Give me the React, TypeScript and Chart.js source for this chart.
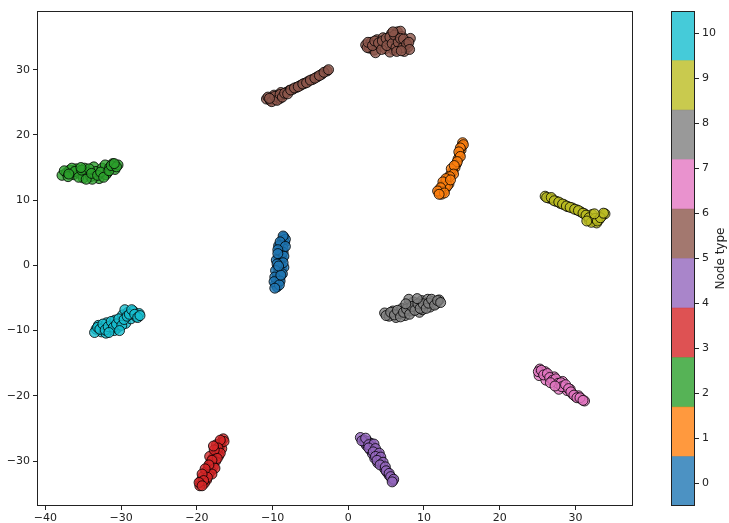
import React, { useEffect, useRef } from "react";
import { Chart, registerables } from "chart.js";

Chart.register(...registerables);

// ---- Data ----
const NODE_TYPES = [0, 1, 2, 3, 4, 5, 6, 7, 8, 9, 10];

const TYPE0: [number, number][] = [[-8.5,4.3],[-8.7,3.8],[-8.9,3.2],[-8.4,3.5],[-9.1,2.8],[-8.6,2.6],[-9.0,2.2],[-8.8,1.6],[-9.2,1.2],[-8.7,1.0],[-9.0,0.5],[-8.9,0.0],[-9.3,-0.3],[-8.8,-0.6],[-9.1,-1.0],[-9.4,-1.4],[-9.0,-1.8],[-9.5,-2.2],[-9.2,-2.6],[-9.6,-2.9],[-9.4,-3.3],[-8.6,2.0],[-9.2,3.0],[-8.5,-0.3],[-9.5,0.8],
  [-8.3,4.0],[-8.6,4.5],[-9.0,3.6],[-8.3,2.9],[-9.3,2.4],[-8.5,1.4],[-9.3,1.8],[-8.6,0.4],[-9.4,0.2],[-9.6,-0.8],[-8.7,-1.3],[-9.7,-1.8],[-9.0,-2.4],[-9.8,-2.5],[-9.1,-3.0],[-9.7,-3.5],[-8.9,-1.5],[-9.2,-0.1]];
const TYPE1: [number, number][] = [[15.1,18.8],[15.0,18.3],[14.9,17.7],[14.7,17.0],[14.5,16.3],[14.3,15.6],[14.1,15.0],[13.8,14.4],[13.5,13.9],[13.2,13.4],[13.0,13.0],[12.7,12.6],[13.3,12.5],[12.4,12.1],[12.9,11.9],[12.1,11.6],[12.6,11.4],[12.0,11.2],[12.3,10.9],[13.6,14.8],[12.8,12.2],
  [15.2,18.5],[14.8,18.0],[14.6,17.4],[14.8,16.7],[14.4,15.9],[14.0,15.3],[13.9,14.0],[13.4,13.6],[12.9,13.3],[13.1,12.2],[12.5,12.8],[12.2,11.9],[11.8,11.4],[12.7,11.1],[12.0,10.9],[13.5,13.1]];
const TYPE2: [number, number][] = [[-37.8,13.8],[-37.2,14.2],[-36.8,14.6],[-36.3,13.9],[-35.9,14.8],[-35.5,14.1],[-35.0,13.4],[-34.8,14.9],[-34.4,14.3],[-34.0,13.6],[-33.6,15.1],[-33.3,14.4],[-32.9,13.3],[-32.5,14.9],[-32.1,15.4],[-31.8,14.2],[-31.5,15.0],[-31.1,15.6],[-30.8,14.7],[-30.4,15.4],[-33.8,13.2],[-36.5,14.9],[-32.0,13.9],
  [-37.5,14.5],[-37.0,13.6],[-36.1,14.4],[-35.6,13.5],[-35.2,14.6],[-34.6,13.2],[-34.2,14.8],[-33.9,14.1],[-33.1,13.8],[-32.7,14.3],[-32.3,13.5],[-31.6,14.5],[-31.3,15.3],[-30.6,15.1],[-30.9,15.6],[-36.9,14.0],[-35.3,15.0]];
const TYPE3: [number, number][] = [[-16.5,-26.6],[-16.8,-27.2],[-17.0,-27.8],[-16.7,-28.1],[-17.3,-28.4],[-17.6,-28.9],[-17.1,-29.2],[-17.9,-29.6],[-17.5,-30.0],[-18.2,-30.3],[-17.8,-30.8],[-18.5,-31.0],[-18.1,-31.5],[-18.8,-31.7],[-18.4,-32.1],[-19.2,-32.4],[-18.7,-32.9],[-19.5,-33.1],[-19.0,-33.4],[-19.6,-33.8],[-17.4,-27.5],[-18.3,-29.3],
  [-16.4,-27.0],[-16.9,-26.8],[-17.2,-28.0],[-16.9,-28.8],[-17.7,-28.3],[-17.3,-29.6],[-18.0,-29.9],[-17.6,-31.1],[-18.4,-30.6],[-18.0,-32.0],[-18.9,-31.2],[-18.6,-32.5],[-19.3,-32.0],[-19.1,-33.0],[-19.7,-33.3],[-19.3,-33.8],[-17.8,-27.7]];
const TYPE4: [number, number][] = [[1.6,-26.4],[2.1,-26.8],[2.6,-27.0],[3.0,-27.3],[2.4,-27.6],[3.3,-27.9],[2.9,-28.3],[3.7,-28.5],[3.2,-28.9],[4.0,-29.1],[3.5,-29.6],[4.3,-29.8],[3.9,-30.3],[4.5,-30.6],[4.8,-31.2],[5.1,-31.7],[5.4,-32.2],[5.7,-32.6],[5.9,-33.0],[2.2,-27.2],[4.2,-30.1],
  [1.8,-26.9],[2.3,-26.5],[2.7,-27.5],[3.4,-27.4],[2.7,-28.0],[3.6,-28.1],[3.3,-28.6],[4.1,-28.8],[3.6,-29.3],[4.3,-29.4],[3.8,-29.9],[4.6,-30.2],[4.2,-30.6],[4.9,-30.9],[5.0,-31.5],[5.4,-31.9],[5.6,-32.4],[6.0,-32.8],[5.8,-33.2]];
const TYPE5: [number, number][] = [[-10.8,25.5],[-10.3,25.3],[-10.0,25.7],[-9.6,25.4],[-9.3,26.0],[-9.0,25.6],[-8.6,26.2],[-8.2,26.5],[-7.8,26.8],[-7.3,27.0],[-6.8,27.3],[-6.3,27.6],[-5.8,27.9],[-5.3,28.2],[-4.7,28.5],[-4.1,28.9],[-3.5,29.3],[-2.8,29.8],[-9.8,26.1],[-8.9,26.5],
  [-10.6,25.8],[-10.1,25.1],[-9.7,25.9],[-9.4,25.3],[-9.0,26.2],[-8.7,25.8],[-8.4,26.4],[-8.0,26.3],[-7.6,26.9],[-7.1,27.2],[-6.6,27.4],[-6.0,27.8],[-5.5,28.0],[-5.0,28.4],[-4.4,28.7],[-3.8,29.1],[-3.2,29.6],[-2.6,30.0],[-10.4,25.6]];
const TYPE6: [number, number][] = [[2.3,33.8],[2.8,33.3],[3.0,34.2],[3.4,33.0],[3.8,34.6],[4.2,33.6],[4.6,34.9],[4.9,33.2],[5.3,34.1],[5.7,35.5],[6.0,33.0],[6.2,34.6],[6.5,35.8],[6.8,33.7],[7.1,35.1],[7.4,32.8],[7.6,34.3],[7.9,33.5],[8.2,34.8],[5.5,32.7],[3.6,32.6],[6.9,35.9],
  [2.5,33.4],[2.6,34.2],[3.2,33.7],[3.5,34.4],[4.0,34.1],[4.4,33.1],[4.5,34.4],[5.0,34.8],[5.1,33.7],[5.5,35.0],[5.8,34.0],[6.1,35.3],[6.3,33.4],[6.6,34.2],[6.9,34.8],[7.2,33.4],[7.3,34.7],[7.7,33.9],[8.0,34.2],[8.1,33.1],[6.4,32.8],[5.9,35.8],[7.0,32.9]];
const TYPE7: [number, number][] = [[25.3,-15.9],[25.6,-16.5],[25.2,-16.9],[26.0,-16.3],[26.4,-17.0],[26.8,-17.4],[27.2,-17.1],[27.5,-17.9],[27.9,-18.3],[28.3,-17.8],[28.6,-18.7],[28.9,-19.2],[29.3,-19.0],[29.6,-19.7],[30.0,-20.1],[30.4,-20.0],[30.8,-20.5],[31.2,-20.8],[26.1,-17.6],[27.8,-19.0],
  [25.1,-16.3],[25.5,-16.1],[25.8,-16.8],[26.3,-16.6],[26.6,-17.2],[27.0,-17.6],[27.4,-17.4],[27.7,-18.1],[28.1,-18.0],[28.2,-18.6],[28.7,-18.3],[29.1,-18.9],[29.4,-19.4],[29.8,-19.9],[30.2,-20.3],[30.6,-20.3],[31.0,-20.7],[26.7,-18.0],[27.3,-18.5]];
const TYPE8: [number, number][] = [[4.8,-7.3],[5.4,-7.8],[5.9,-7.0],[6.3,-8.0],[6.7,-7.4],[7.1,-6.6],[7.5,-7.7],[7.9,-6.2],[8.3,-7.0],[8.6,-5.6],[9.0,-6.5],[9.4,-7.2],[9.7,-5.4],[10.1,-6.1],[10.5,-5.2],[10.8,-6.4],[11.2,-5.5],[11.6,-5.9],[12.0,-5.3],[8.0,-5.2],[9.8,-6.8],
  [5.0,-7.7],[5.6,-7.2],[6.1,-7.6],[6.5,-6.9],[6.9,-7.9],[7.3,-7.2],[7.7,-6.7],[8.1,-7.5],[8.4,-6.3],[8.8,-6.9],[9.2,-5.9],[9.5,-6.6],[9.9,-5.9],[10.3,-6.6],[10.6,-5.8],[11.0,-5.2],[11.4,-6.1],[11.8,-5.4],[12.2,-5.7],[9.1,-5.1],[7.6,-5.9]];
const TYPE9: [number, number][] = [[26.0,10.6],[26.5,10.3],[27.0,10.1],[27.5,9.8],[28.0,9.5],[28.5,9.3],[29.0,9.0],[29.6,8.8],[30.2,8.5],[30.7,8.2],[31.2,7.9],[31.6,7.5],[32.0,7.1],[32.4,6.8],[32.8,6.5],[33.1,7.0],[33.5,7.6],[33.9,7.9],[32.2,7.8],[31.8,6.9],
  [26.2,10.4],[26.8,10.4],[27.2,9.9],[27.8,9.7],[28.3,9.4],[28.8,9.1],[29.3,8.9],[29.9,8.6],[30.4,8.4],[31.0,8.0],[31.4,7.7],[31.8,7.3],[32.1,6.6],[32.6,7.2],[32.9,6.8],[33.3,7.3],[33.7,8.0],[32.5,7.9],[31.5,6.8]];
const TYPE10: [number, number][] = [[-33.3,-9.8],[-33.0,-9.2],[-32.6,-10.2],[-32.3,-9.5],[-31.9,-8.8],[-31.5,-9.9],[-31.2,-9.1],[-30.8,-8.4],[-30.5,-9.6],[-30.1,-8.7],[-29.8,-7.6],[-29.4,-8.9],[-29.1,-7.2],[-28.7,-8.2],[-28.4,-7.0],[-28.0,-7.9],[-27.6,-7.4],[-30.9,-10.0],[-32.0,-10.4],[-29.5,-6.8],
  [-33.5,-10.3],[-33.1,-9.5],[-32.8,-9.8],[-32.4,-9.0],[-32.1,-9.9],[-31.7,-9.4],[-31.3,-8.6],[-31.0,-9.5],[-30.6,-9.0],[-30.3,-8.2],[-29.9,-9.2],[-29.6,-8.3],[-29.2,-7.8],[-28.9,-7.5],[-28.6,-6.8],[-28.2,-7.5],[-27.8,-8.0],[-27.5,-7.7],[-31.6,-10.3],[-30.2,-10.0]];

const SERIES = [TYPE0, TYPE1, TYPE2, TYPE3, TYPE4, TYPE5, TYPE6, TYPE7, TYPE8, TYPE9, TYPE10];

const X_TICKS = [-40, -30, -20, -10, 0, 10, 20, 30];
const Y_TICKS = [-30, -20, -10, 0, 10, 20, 30];
const CB_TICKS = [0, 1, 2, 3, 4, 5, 6, 7, 8, 9, 10];

// tab10 palette (colorbar bands)
const TAB10: [number, number, number][] = [
  [31, 119, 180], [255, 127, 14], [44, 160, 44], [214, 39, 40], [148, 103, 189],
  [140, 86, 75], [227, 119, 194], [127, 127, 127], [188, 189, 34], [23, 190, 207],
];
// colour index of each node type (type values 0..10 mapped onto 10 bands)
const TYPE_COLOR_INDEX = [0, 1, 2, 3, 4, 5, 5, 6, 7, 8, 9];

const ALPHA = 0.8;
const FONT = "'DejaVu Sans', sans-serif";
const TEXT = "#222";

const rgba = (c: [number, number, number], a: number) => `rgba(${c[0]},${c[1]},${c[2]},${a})`;
const fmt = (v: number) => (v < 0 ? "\u2212" + Math.abs(v) : String(v));

const framePlugin = {
  id: "frame",
  afterDraw(chart: any) {
    const { ctx, chartArea: a } = chart;
    ctx.save();
    ctx.strokeStyle = TEXT;
    ctx.lineWidth = 1;
    ctx.strokeRect(Math.round(a.left) + 0.5, Math.round(a.top) + 0.5, Math.round(a.right - a.left) - 1, Math.round(a.bottom - a.top) - 1);
    ctx.restore();
  },
};

const cbLabelPlugin = {
  id: "cblabel",
  afterDraw(chart: any) {
    const { ctx, chartArea: a } = chart;
    ctx.save();
    ctx.fillStyle = TEXT;
    ctx.font = `12px ${FONT}`;
    ctx.textAlign = "center";
    ctx.textBaseline = "middle";
    ctx.translate(71, (a.top + a.bottom) / 2);
    ctx.rotate(-Math.PI / 2);
    ctx.fillText("Node type", 0, 0);
    ctx.restore();
  },
};

const axisGrid = { display: true, drawOnChartArea: false, drawTicks: true, tickLength: 4, color: TEXT, lineWidth: 1 };

export default function App() {
  const mainRef = useRef<HTMLCanvasElement>(null);
  const cbRef = useRef<HTMLCanvasElement>(null);

  useEffect(() => {
    const main = new Chart(mainRef.current!, {
      type: "scatter",
      data: {
        datasets: SERIES.map((pts, i) => ({
          label: String(NODE_TYPES[i]),
          data: pts.map(([x, y]) => ({ x, y })),
          backgroundColor: rgba(TAB10[TYPE_COLOR_INDEX[i]], ALPHA),
          borderColor: `rgba(0,0,0,${ALPHA})`,
          borderWidth: 1,
          pointRadius: 5,
          pointHoverRadius: 5,
        })),
      },
      options: {
        responsive: false,
        animation: false,
        devicePixelRatio: 1,
        layout: { padding: { left: 0, top: 11, right: 17, bottom: 0 } },
        plugins: { legend: { display: false }, tooltip: { enabled: false } },
        scales: {
          x: {
            type: "linear",
            min: -41.1,
            max: 37.6,
            afterBuildTicks: (s: any) => { s.ticks = X_TICKS.map((v) => ({ value: v })); },
            afterFit: (s: any) => { s.height = 17; },
            ticks: { callback: (v: any) => fmt(Number(v)), font: { family: FONT, size: 11 }, color: TEXT, padding: 2, maxRotation: 0 },
            grid: axisGrid,
            border: { display: false },
          },
          y: {
            type: "linear",
            min: -36.9,
            max: 39.0,
            afterBuildTicks: (s: any) => { s.ticks = Y_TICKS.map((v) => ({ value: v })); },
            afterFit: (s: any) => { s.width = 37; },
            ticks: { callback: (v: any) => fmt(Number(v)), font: { family: FONT, size: 11 }, color: TEXT, padding: 3 },
            grid: axisGrid,
            border: { display: false },
          },
        },
      },
      plugins: [framePlugin],
    });

    const lo = -0.5;
    const hi = 10.5;
    const band = (hi - lo) / TAB10.length;
    const cb = new Chart(cbRef.current!, {
      type: "bar",
      data: {
        labels: ["cb"],
        datasets: TAB10.map((c, i) => ({
          data: [[lo + band * i, lo + band * (i + 1)]] as any,
          backgroundColor: rgba(c, ALPHA),
          borderWidth: 0,
          grouped: false,
          barPercentage: 1,
          categoryPercentage: 1,
        })),
      },
      options: {
        responsive: false,
        animation: false,
        devicePixelRatio: 1,
        layout: { padding: { left: 21, top: 11, right: 0, bottom: 17 } },
        plugins: { legend: { display: false }, tooltip: { enabled: false } },
        scales: {
          x: { type: "category", display: false },
          y: {
            type: "linear",
            position: "right",
            min: lo,
            max: hi,
            afterBuildTicks: (s: any) => { s.ticks = CB_TICKS.map((v) => ({ value: v })); },
            afterFit: (s: any) => { s.width = 34; },
            ticks: { font: { family: FONT, size: 11 }, color: TEXT, padding: 3 },
            grid: axisGrid,
            border: { display: false },
          },
        },
      },
      plugins: [framePlugin, cbLabelPlugin],
    });

    return () => {
      main.destroy();
      cb.destroy();
    };
  }, []);

  return (
    <div style={{ position: "absolute", left: 0, top: 0, width: 729, height: 523, background: "#fff" }}>
      <canvas ref={mainRef} width={650} height={523} style={{ position: "absolute", left: 0, top: 0, width: 650, height: 523 }} />
      <canvas ref={cbRef} width={79} height={523} style={{ position: "absolute", left: 650, top: 0, width: 79, height: 523 }} />
    </div>
  );
}
